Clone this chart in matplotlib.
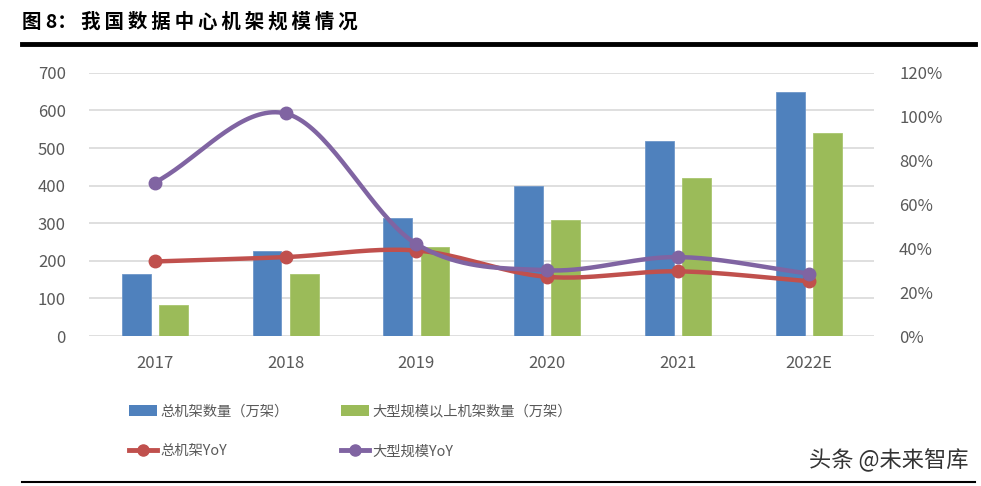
import numpy as np
import matplotlib
matplotlib.use("Agg")
import matplotlib.pyplot as plt
from matplotlib.lines import Line2D
from matplotlib.patches import Patch

plt.rcParams['font.family'] = ['Noto Sans CJK SC', 'DejaVu Sans']

# data
years = ['2017', '2018', '2019', '2020', '2021', '2022E']
total_racks = [165, 225, 315, 400, 520, 650]      # 总机架数量（万架）
large_racks = [82, 166, 236, 308, 420, 540]       # 大型规模以上机架数量（万架）
total_yoy = [34, 36, 39, 27, 29.5, 25]            # 总机架YoY (%)
large_yoy = [70, 101.5, 42, 30, 36, 28.5]         # 大型规模YoY (%)

blue = '#4F81BD'
green = '#9BBB59'
red = '#C0504D'
purple = '#8064A2'
grey = '#595959'


def smooth(x, y, n=40):
    # catmull-rom curve through the points, close to excel's smoothed line
    x = np.asarray(x, float)
    y = np.asarray(y, float)
    px = np.concatenate([[2 * x[0] - x[1]], x, [2 * x[-1] - x[-2]]])
    py = np.concatenate([[2 * y[0] - y[1]], y, [2 * y[-1] - y[-2]]])
    xs, ys = [], []
    t = np.linspace(0, 1, n)
    for i in range(1, len(px) - 2):
        for p, out in ((px, xs), (py, ys)):
            p0, p1, p2, p3 = p[i - 1], p[i], p[i + 1], p[i + 2]
            out.append(0.5 * ((2 * p1) + (-p0 + p2) * t
                              + (2 * p0 - 5 * p1 + 4 * p2 - p3) * t ** 2
                              + (-p0 + 3 * p1 - 3 * p2 + p3) * t ** 3))
    return np.concatenate(xs), np.concatenate(ys)


fig = plt.figure(figsize=(9.81, 4.86), dpi=100)
ax = fig.add_axes([0.0912, 0.3086, 0.7998, 0.5414])
ax2 = ax.twinx()

x = np.arange(len(years))
w = 0.22
ax.bar(x - 0.142, total_racks, w, color=blue, edgecolor='#6f97c9', linewidth=0.6, zorder=2)
ax.bar(x + 0.142, large_racks, w, color=green, edgecolor='#a9c66f', linewidth=0.6, zorder=2)

ax.set_ylim(0, 700)
ax.set_yticks(range(0, 701, 100))
ax.set_xlim(-0.5, len(years) - 0.5)
ax.set_xticks(x)
ax.set_xticklabels(years)
ax.grid(axis='y', color='#D9D9D9', linewidth=1.2, zorder=0)
ax.set_axisbelow(True)

sx, sy = smooth(x, total_yoy)
ax2.plot(sx, sy, color=red, linewidth=3.2, solid_capstyle='round')
ax2.plot(x, total_yoy, 'o', color=red, markersize=9)
sx, sy = smooth(x, large_yoy)
ax2.plot(sx, sy, color=purple, linewidth=3.2, solid_capstyle='round')
ax2.plot(x, large_yoy, 'o', color=purple, markersize=9)
ax2.set_ylim(0, 120)
ax2.set_yticks(range(0, 121, 20))
ax2.set_yticklabels([f'{v}%' for v in range(0, 121, 20)])

for a in (ax, ax2):
    for s in a.spines.values():
        s.set_visible(False)
    a.tick_params(length=0, labelsize=12, colors=grey)
ax.tick_params(axis='y', pad=17)
ax.tick_params(axis='x', pad=14)
ax2.tick_params(axis='y', pad=18)

# column-major order: left column blue / red, right column green / purple
handles = [
    Patch(facecolor=blue),
    Line2D([], [], color=red, linewidth=3.5, marker='o', markersize=8),
    Patch(facecolor=green),
    Line2D([], [], color=purple, linewidth=3.5, marker='o', markersize=8),
]
labels = ['总机架数量（万架）', '总机架YoY', '大型规模以上机架数量（万架）', '大型规模YoY']
fig.legend(handles, labels, loc='upper left', bbox_to_anchor=(0.118, 0.194), ncol=2,
           frameon=False, fontsize=10.3, labelcolor=grey, columnspacing=3.6,
           handlelength=2.0, handleheight=0.75, handletextpad=0.25, labelspacing=1.8)

title = '我国数据中心机架规模情况'
fig.text(0.022, 0.955, '图 8： ' + '\u2009'.join(title), fontsize=14, fontweight='bold',
         va='center', ha='left')
fig.add_artist(Line2D([0.022, 0.994], [0.909, 0.909], color='black', linewidth=3.5))
fig.add_artist(Line2D([0.022, 0.994], [0.008, 0.008], color='black', linewidth=1.5))
fig.text(0.987, 0.052, '头条 @未来智库', fontsize=16, color='#333333', ha='right', va='center')

fig.savefig('out.png', dpi=100)
